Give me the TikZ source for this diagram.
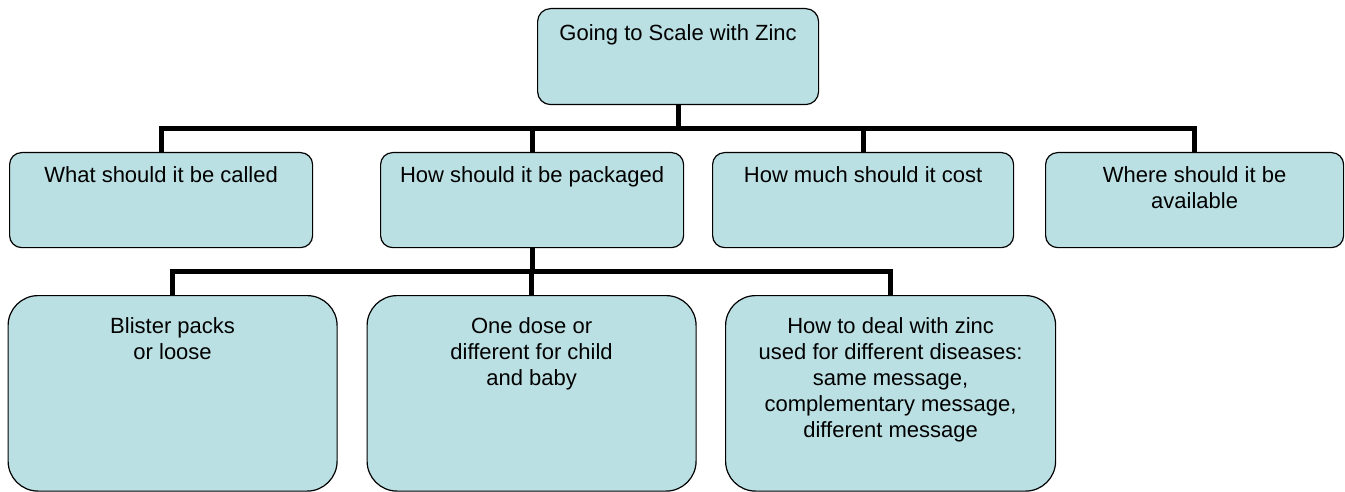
\documentclass[tikz,border=0pt]{standalone}
\usepackage{fontspec}
\setmainfont{Liberation Sans}
\usetikzlibrary{positioning}
\definecolor{zincblue}{HTML}{BBE0E3}
% box text: width, height, top gap, text
\newcommand{\qtext}[4]{\parbox[c][#2pt][t]{#1pt}{\centering\vspace*{#3pt}#4}}
\tikzset{
  qbox/.style={draw, fill=zincblue, line width=1.2pt, inner sep=0pt,
    anchor=north west, font=\fontsize{22}{26}\selectfont},
  link/.style={line width=5pt, line join=miter}
}

\begin{document}
\begin{tikzpicture}[x=1pt, y=1pt]
  \useasboundingbox (0,0) rectangle (1345,491);
  \node[qbox, rounded corners=13pt] (zinc) at (537,483)
    {\qtext{281}{96}{16}{Going to Scale with Zinc}};
  % second row
  \node[qbox, rounded corners=12pt] (called) at (9,339)
    {\qtext{303}{95}{14}{What should it be called}};
  \node[qbox, rounded corners=12pt] (packaged) at (380,339)
    {\qtext{303}{95}{14}{How should it be packaged}};
  \node[qbox, rounded corners=12pt] (cost) at (712,339)
    {\qtext{301}{95}{14}{How much should it cost}};
  \node[qbox, rounded corners=12pt] (avail) at (1045,339)
    {\qtext{298}{95}{14}{Where should it be\\available}};
  % third row
  \node[qbox, rounded corners=30pt] (blister) at (7.5,196)
    {\qtext{329}{195.5}{22}{Blister packs\\or loose}};
  \node[qbox, rounded corners=30pt] (dose) at (366.5,196)
    {\qtext{329}{195.5}{22}{One dose or\\different for child\\and baby}};
  \node[qbox, rounded corners=30pt] (deal) at (725,196)
    {\qtext{330}{195.5}{22}{How to deal with zinc\\used for different diseases:\\same message,\\complementary message,\\different message}};
  \coordinate (bar1) at (0,362.5);
  \coordinate (bar2) at (0,219.5);
  \draw[link] (zinc.south) -- (zinc.south |- bar1);
  \draw[link] (called.north) -- (called.north |- bar1) -- (avail.north |- bar1) -- (avail.north);
  \foreach \n in {packaged,cost}
    \draw[link] (\n.north) -- (\n.north |- bar1);
  \draw[link] (packaged.south) -- (packaged.south |- bar2);
  \draw[link] (blister.north) -- (blister.north |- bar2) -- (deal.north |- bar2) -- (deal.north);
  \draw[link] (dose.north) -- (dose.north |- bar2);
\end{tikzpicture}
\end{document}
